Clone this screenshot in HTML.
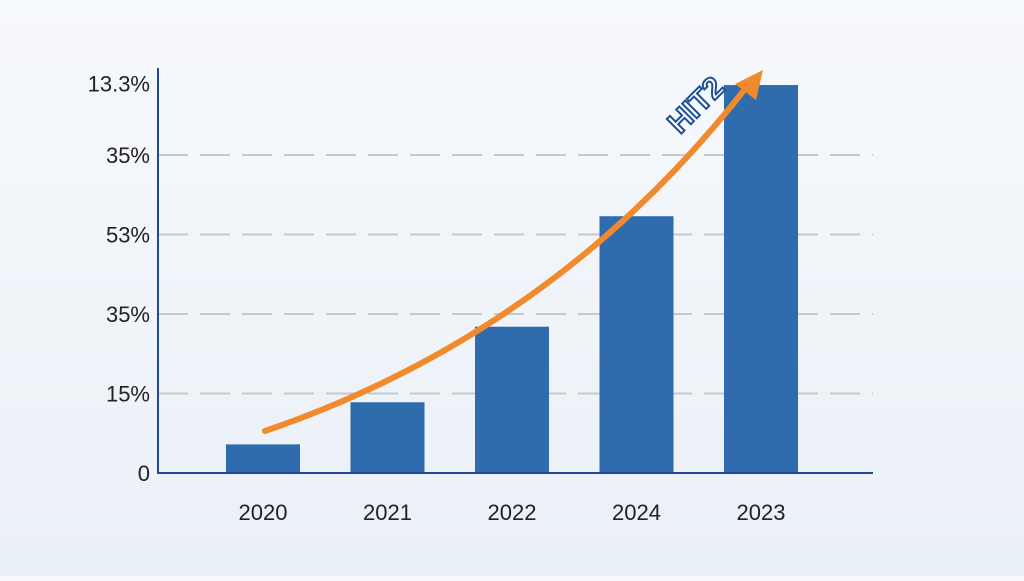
<!DOCTYPE html>
<html><head><meta charset="utf-8"><style>
body{margin:0;width:1024px;height:576px;overflow:hidden;background:linear-gradient(180deg,#f7f9fc 0%,#eaf0f7 100%);font-family:"Liberation Sans",sans-serif;}
</style></head><body>
<svg id="chart" width="1024" height="576" xmlns="http://www.w3.org/2000/svg"></svg>
<script>
const categories=["2020","2021","2022","2024","2023"];
const values=[3.6,8.9,18.4,32.3,48.8];
const tickValues=[0,10,20,30,40,49];
const tickLabels=["0","15%","35%","53%","35%","13.3%"];
const svg=document.getElementById('chart');
const NS='http://www.w3.org/2000/svg';
const x0=158,x1=873,y0=473,unit=7.95;
const yScale=v=>y0-v*unit;
const xCenter=i=>263+i*124.5;
function mk(t,a){const e=document.createElementNS(NS,t);for(const k in a)e.setAttribute(k,a[k]);svg.appendChild(e);return e;}
tickValues.forEach((v,i)=>{
  if(v>0&&v<45){const g=mk('line',{x1:x0,x2:x1,y1:yScale(v),y2:yScale(v),stroke:'#c4c8cf','stroke-width':2,'stroke-dasharray':'30,12'});
  
  }
  const t=mk('text',{x:150,y:yScale(v)+8,'text-anchor':'end','font-size':22,fill:'#222'});
  t.textContent=tickLabels[i];
  
  
});
values.forEach((v,i)=>{
  const r=mk('rect',{x:xCenter(i)-37,y:yScale(v),width:74,height:v*unit,fill:'#2f6cad'});
  
  
  const t=mk('text',{x:xCenter(i),y:520,'text-anchor':'middle','font-size':22,fill:'#222'});
  t.textContent=categories[i];
  
  
});
const ya=mk('line',{x1:x0,x2:x0,y1:68,y2:y0+1,stroke:'#23489a','stroke-width':2});


const xa=mk('line',{x1:x0,x2:x1,y1:y0,y2:y0,stroke:'#23489a','stroke-width':2});


const ar=mk('path',{d:'M265,431 Q560,330 752,80',fill:'none',stroke:'#f08a2c','stroke-width':6,'stroke-linecap':'round'});


const ah=mk('polygon',{points:'763,70 756,100 735,84',fill:'#f08a2c'});


const lb=mk('text',{x:0,y:0,transform:'translate(680,135) rotate(-45)','font-size':30,'font-weight':'bold',fill:'#fff',stroke:'#1f4f95','stroke-width':2});
lb.textContent='HIT2';


</script>
</body></html>
